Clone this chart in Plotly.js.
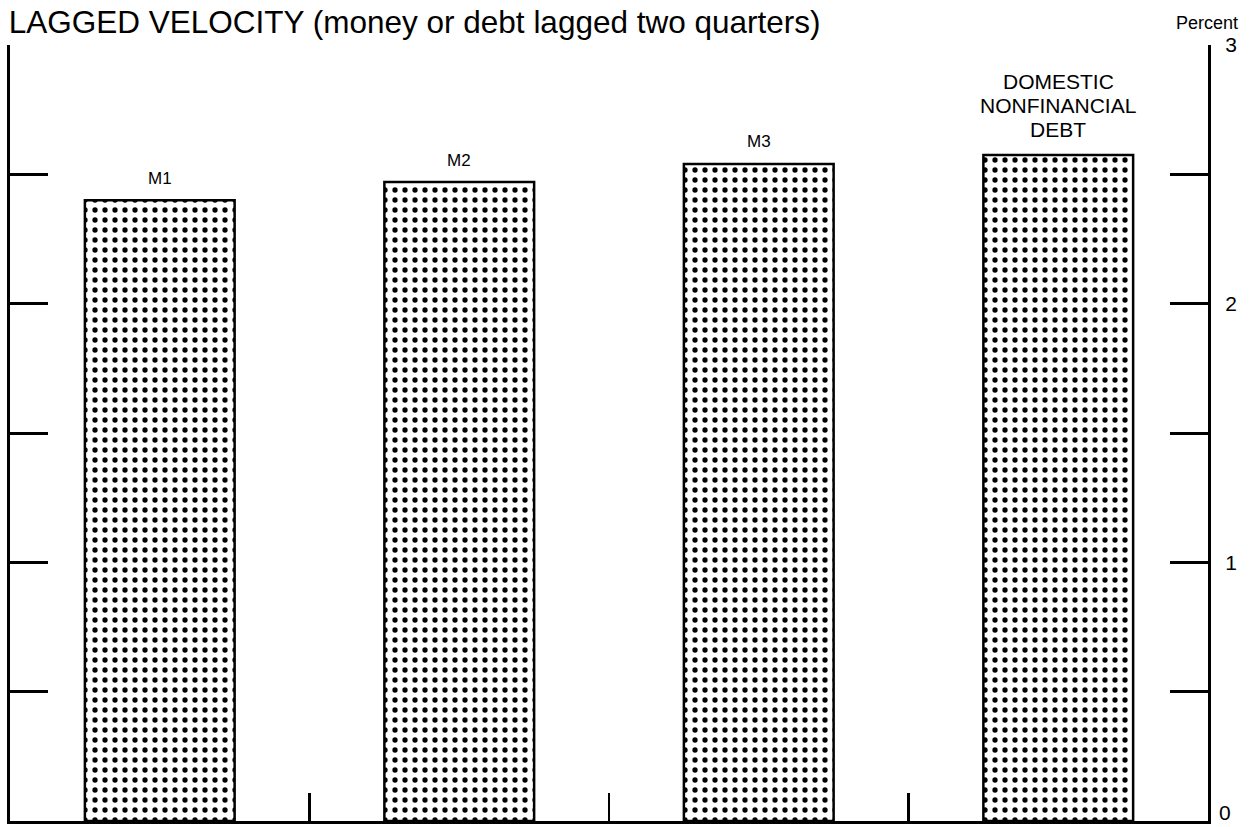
<!DOCTYPE html>
<html>
<head>
<meta charset="utf-8">
<script src="https://cdn.plot.ly/plotly-3.0.1.min.js"></script>
<style>html,body{margin:0;padding:0;background:#fff;}#chart{width:1250px;height:827px;}</style>
</head>
<body>
<div id="chart"></div>
<script>
const categories = ['M1', 'M2', 'M3', 'DOMESTIC NONFINANCIAL DEBT'];
const barLabels = ['M1', 'M2', 'M3', 'DOMESTIC<br>NONFINANCIAL<br>DEBT'];
const values = [2.40, 2.47, 2.54, 2.575];
const yTickVals = [0.5, 1, 1.5, 2, 2.5, 3];
const yTickText = ['', '1', '', '2', '', '3'];
const yBaseVals = [0];
const yBaseText = ['0'];
const titleText = 'LAGGED VELOCITY (money or debt lagged two quarters)';
const unitText = 'Percent';

const FONT = 'Liberation Sans, Arial, Helvetica, sans-serif';

const trace = {
  type: 'bar',
  x: categories,
  y: values,
  width: 0.5,
  marker: {
    color: 'white',
    line: {color: 'black', width: 2.5},
    pattern: {shape: '.', size: 10, solidity: 0.22, fgcolor: 'black', bgcolor: 'white', fillmode: 'replace'}
  },
  hoverinfo: 'skip'
};

// empty helper trace so the overlaid label axis for the baseline is drawn
const baseAxisTrace = {
  type: 'scatter', mode: 'markers',
  x: [], y: [], xaxis: 'x', yaxis: 'y2',
  hoverinfo: 'skip', showlegend: false
};

const annotations = [];
categories.forEach((c, i) => {
  const lines = barLabels[i].split('<br>');
  const n = lines.length;
  const fs = n > 1 ? 21 : 17;
  const base = n > 1 ? 25 : 22;
  lines.forEach((ln, k) => {
    annotations.push({
      x: c, y: values[i], xref: 'x', yref: 'y',
      text: ln, showarrow: false,
      yanchor: 'middle', yshift: base + (n - 1 - k) * 24,
      font: {family: FONT, size: fs, color: 'black'}
    });
  });
});
annotations.push({
  xref: 'paper', yref: 'paper', x: 1.0, xshift: 32, y: 1.0, yshift: 22,
  xanchor: 'right', yanchor: 'middle',
  text: unitText, showarrow: false,
  font: {family: FONT, size: 18, color: 'black'}
});

const layout = {
  width: 1250, height: 827,
  margin: {l: 10, r: 42, t: 45, b: 6},
  paper_bgcolor: 'white', plot_bgcolor: 'white',
  showlegend: false,
  title: {
    text: titleText,
    xref: 'container', yref: 'container',
    x: 0.007, xanchor: 'left', y: 0.974, yanchor: 'middle',
    font: {family: FONT, size: 31.5, color: 'black'}
  },
  xaxis: {
    type: 'category',
    range: [-0.5, 3.5],
    showgrid: false, zeroline: false,
    showline: true, linecolor: 'black', linewidth: 3,
    ticks: 'inside', tickson: 'boundaries', ticklen: 28, tickwidth: 2.5, tickcolor: 'black',
    showticklabels: false, fixedrange: true
  },
  yaxis: {
    side: 'right',
    range: [0, 3],
    tickvals: yTickVals, ticktext: yTickText,
    showgrid: false, zeroline: false,
    showline: true, linecolor: 'black', linewidth: 3, mirror: 'ticks',
    ticks: 'inside', ticklen: 38, tickwidth: 3, tickcolor: 'black',
    ticklabelstandoff: 10,
    tickfont: {family: FONT, size: 21, color: 'black'},
    fixedrange: true
  },
  yaxis2: {
    overlaying: 'y', anchor: 'x', side: 'right',
    range: [0, 3],
    tickmode: 'array',
    tickvals: yBaseVals, ticktext: yBaseText,
    showgrid: false, zeroline: false, showline: false,
    ticks: '', ticklabelstandoff: 10, ticklabelshift: -8,
    ticklabeloverflow: 'allow',
    tickfont: {family: FONT, size: 21, color: 'black'},
    fixedrange: true
  },
  annotations: annotations
};

Plotly.newPlot('chart', [trace, baseAxisTrace], layout, {displayModeBar: false, staticPlot: true});
</script>
</body>
</html>
